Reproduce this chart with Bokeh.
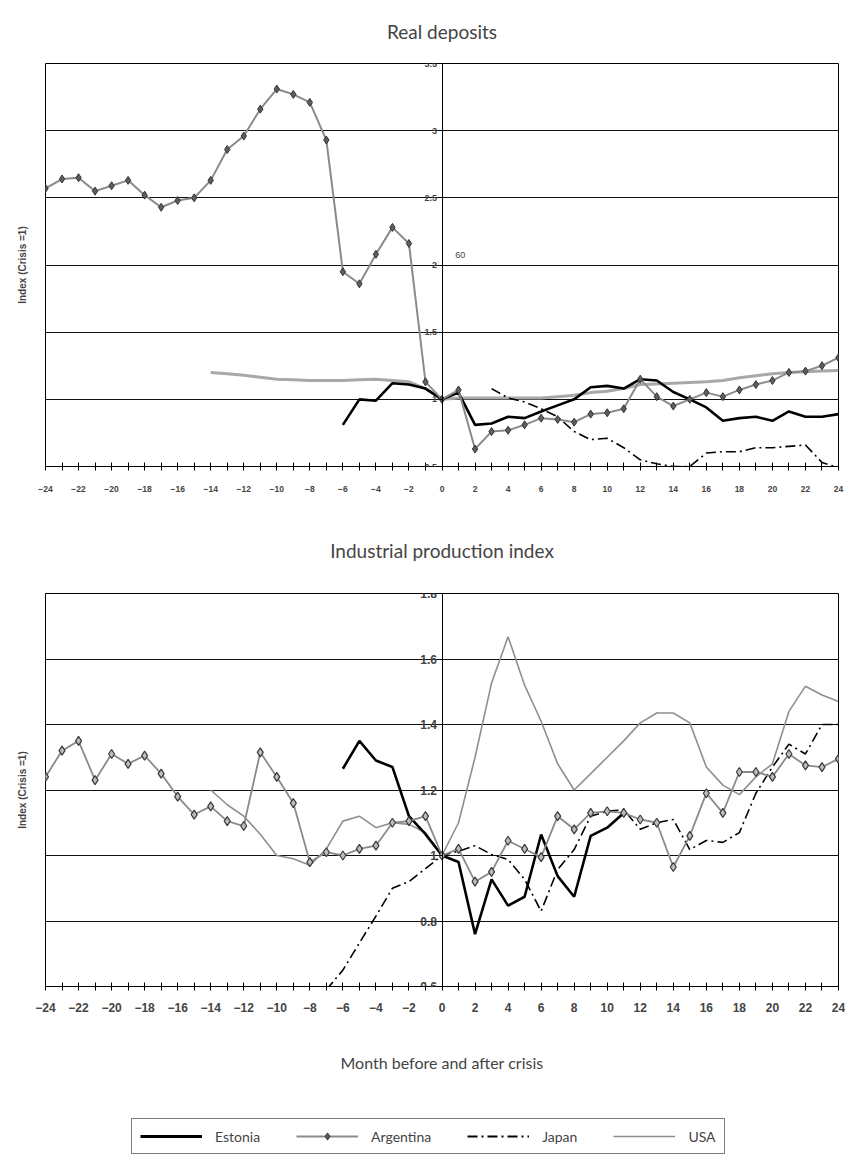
from bokeh.plotting import figure
from bokeh.layouts import column
from bokeh.models import (FixedTicker, Title, Legend, LegendItem, Label, Range1d,
                          CustomJSTickFormatter)
from bokeh.embed import file_html
from bokeh.resources import INLINE

# ---------------- data ----------------
# Month axis
month_ticks = list(range(-24, 25, 2))
month_minor = list(range(-23, 24, 2))

# Real deposits (Index, crisis = 1)
dep_argentina_start = -24
dep_argentina = [2.57, 2.64, 2.65, 2.55, 2.59, 2.63, 2.52, 2.43, 2.48, 2.50,
                 2.63, 2.86, 2.96, 3.16, 3.31, 3.27, 3.21, 2.93, 1.95, 1.86,
                 2.08, 2.28, 2.16, 1.13, 1.00,
                 1.07, 0.63, 0.76, 0.77, 0.81, 0.86, 0.85, 0.83, 0.89, 0.90,
                 0.93, 1.15, 1.02, 0.95, 1.00, 1.05, 1.02, 1.07, 1.11, 1.14,
                 1.20, 1.21, 1.25, 1.31]
dep_usa_start = -14
dep_usa = [1.20, 1.19, 1.18, 1.165, 1.15, 1.145, 1.14, 1.14, 1.14, 1.145,
           1.15, 1.14, 1.13, 1.08, 1.00,
           1.01, 1.01, 1.01, 1.01, 1.01, 1.01, 1.02, 1.03, 1.05, 1.06,
           1.08, 1.11, 1.115, 1.12, 1.125, 1.13, 1.14, 1.16, 1.175, 1.19,
           1.20, 1.205, 1.21, 1.215]
dep_estonia_start = -6
dep_estonia = [0.81, 1.00, 0.99, 1.12, 1.11, 1.08, 1.00,
               1.05, 0.81, 0.82, 0.87, 0.86, 0.91, 0.955, 1.00, 1.09, 1.10,
               1.08, 1.15, 1.14, 1.055, 1.00, 0.94, 0.84, 0.86, 0.87, 0.84,
               0.91, 0.87, 0.87, 0.89]
dep_japan_start = 3
dep_japan = [1.08, 1.01, 0.98, 0.93, 0.87, 0.76, 0.70, 0.71, 0.64, 0.55,
             0.52, 0.50, 0.50, 0.60, 0.61, 0.61, 0.64, 0.64, 0.65, 0.66,
             0.53, 0.49]
dep_yticks = [0.5, 1.0, 1.5, 2.0, 2.5, 3.0, 3.5]

# Industrial production index (crisis = 1)
ip_argentina_start = -24
ip_argentina = [1.24, 1.32, 1.35, 1.23, 1.31, 1.28, 1.305, 1.25, 1.18, 1.125,
                1.15, 1.105, 1.09, 1.315, 1.24, 1.16, 0.98, 1.01, 1.00, 1.02,
                1.03, 1.10, 1.105, 1.12, 1.00,
                1.02, 0.92, 0.95, 1.045, 1.02, 0.995, 1.12, 1.08, 1.13, 1.135,
                1.13, 1.11, 1.10, 0.965, 1.06, 1.19, 1.13, 1.255, 1.255, 1.24,
                1.31, 1.275, 1.27, 1.295]
ip_usa_start = -14
ip_usa = [1.20, 1.155, 1.12, 1.065, 1.00, 0.99, 0.97, 1.02, 1.105, 1.12,
          1.085, 1.10, 1.095, 1.07, 1.00,
          1.10, 1.30, 1.527, 1.668, 1.52, 1.41, 1.28, 1.20, 1.25, 1.30,
          1.35, 1.405, 1.435, 1.435, 1.405, 1.27, 1.215, 1.186, 1.24, 1.28,
          1.44, 1.517, 1.49, 1.47]
ip_estonia_start = -6
ip_estonia = [1.265, 1.35, 1.29, 1.27, 1.12, 1.065, 1.00,
              0.98, 0.76, 0.927, 0.847, 0.874, 1.064, 0.937, 0.874, 1.06, 1.085,
              1.13]
ip_japan_start = -7
ip_japan = [0.59, 0.65, 0.733, 0.815, 0.90, 0.92, 0.96, 1.00,
            1.013, 1.03, 1.003, 0.988, 0.927, 0.83, 0.957, 1.018, 1.12, 1.135,
            1.14, 1.08, 1.10, 1.11, 1.018, 1.046, 1.04, 1.07, 1.19, 1.27,
            1.34, 1.31, 1.40, 1.40]
ip_yticks = [0.6, 0.8, 1.0, 1.2, 1.4, 1.6, 1.8]

titles = ["Real deposits", "Industrial production index"]
y_label = "Index (Crisis =1)"
x_label = "Month before and after crisis"
series_names = ["Estonia", "Argentina", "Japan", "USA"]
annotation_text = "60"


def xs(start, vals):
    return list(range(start, start + len(vals)))


TITLE_FONT = "Lato"
AX_FONT = "Liberation Sans"
JAPAN_DASH = "10 4 2 4"
W = 845
LEFT = 44
RIGHT = 7


def make_fig(height, top, bottom, yr, yticks, title, title_standoff,
             title_valign, tick_font, xlab_standoff, left_standoff):
    p = figure(width=W, height=height, x_range=Range1d(-24, 24),
               y_range=Range1d(*yr), output_backend="svg", toolbar_location=None,
               min_border_left=LEFT, min_border_right=RIGHT,
               min_border_top=top, min_border_bottom=bottom)
    p.title.text = title
    p.title.align = "center"
    p.title.vertical_align = title_valign
    p.title.text_font = TITLE_FONT
    p.title.text_font_size = "19px"
    p.title.text_font_style = "normal"
    p.title.standoff = title_standoff
    p.outline_line_color = "black"
    p.outline_line_width = 1
    p.xgrid.visible = False
    p.ygrid.grid_line_color = "#111111"
    p.ygrid.grid_line_width = 1
    p.ygrid.ticker = FixedTicker(ticks=yticks)
    p.background_fill_color = "white"
    p.border_fill_color = "white"

    # x axis (bottom)
    xa = p.xaxis[0]
    xa.ticker = FixedTicker(ticks=month_ticks, minor_ticks=month_minor)
    xa.major_tick_in = 4
    xa.major_tick_out = 4
    xa.minor_tick_in = 4
    xa.minor_tick_out = 4
    xa.axis_line_color = "black"
    xa.major_label_text_font = AX_FONT
    xa.major_label_text_font_style = "bold"
    xa.major_label_text_font_size = tick_font[0]
    xa.major_label_standoff = xlab_standoff

    # y axis drawn at month 0
    ya = p.yaxis[0]
    ya.fixed_location = 0
    ya.ticker = FixedTicker(ticks=yticks)
    ya.major_tick_in = 0
    ya.major_tick_out = 3
    ya.minor_tick_in = 0
    ya.minor_tick_out = 0
    ya.major_label_standoff = 2
    ya.major_label_text_font = AX_FONT
    ya.major_label_text_font_style = "bold"
    ya.major_label_text_font_size = tick_font[1]

    lt = Title(text=y_label, align="center", vertical_align="top",
               text_font=AX_FONT, text_font_size="10px",
               text_font_style="bold", standoff=left_standoff)
    p.add_layout(lt, "left")
    return p


# ---------------- top chart ----------------
p1 = make_fig(505, 62, 39, (0.5, 3.5), dep_yticks, titles[0], 38, "top",
              ("8.5px", "9px"), 15, 32)
p1.yaxis[0].formatter = CustomJSTickFormatter(code="return tick.toString();")

p1.line(xs(dep_usa_start, dep_usa), dep_usa, line_color="#a8a8a8", line_width=3)
p1.line(xs(dep_japan_start, dep_japan), dep_japan, line_color="black",
        line_width=1.6, line_dash=JAPAN_DASH)
p1.line(xs(dep_estonia_start, dep_estonia), dep_estonia, line_color="black",
        line_width=2.6)
p1.line(xs(dep_argentina_start, dep_argentina), dep_argentina,
        line_color="#8a8a8a", line_width=2)
p1.scatter(xs(dep_argentina_start, dep_argentina), dep_argentina,
           marker="diamond", size=8, fill_color="#5e5e5e", line_color="#333333",
           line_width=1)
p1.add_layout(Label(x=0.8, y=2.05, text=annotation_text, text_font=AX_FONT,
                    text_font_size="9px", text_baseline="bottom"))

# ---------------- bottom chart ----------------
p2 = make_fig(581, 88, 100, (0.6, 1.8), ip_yticks, titles[1], 63, "bottom",
              ("12px", "12px"), 12, 32)

p2.line(xs(ip_usa_start, ip_usa), ip_usa, line_color="#8f8f8f", line_width=1.6)
p2.line(xs(ip_japan_start, ip_japan), ip_japan, line_color="black",
        line_width=1.6, line_dash=JAPAN_DASH)
p2.line(xs(ip_estonia_start, ip_estonia), ip_estonia, line_color="black",
        line_width=2.6)
p2.line(xs(ip_argentina_start, ip_argentina), ip_argentina,
        line_color="#8a8a8a", line_width=1.8)
p2.scatter(xs(ip_argentina_start, ip_argentina), ip_argentina,
           marker="diamond", size=9, fill_color="#bdbdbd",
           line_color="#3a3a3a", line_width=1.2)

xa2 = p2.xaxis[0]
xa2.axis_label = x_label
xa2.axis_label_text_font = TITLE_FONT
xa2.axis_label_text_font_size = "16px"
xa2.axis_label_text_font_style = "normal"
xa2.axis_label_standoff = 38

# ---------------- legend strip ----------------
p3 = figure(width=W, height=69, x_range=Range1d(-24, 24),
            y_range=Range1d(0.6, 1.8), output_backend="svg",
            toolbar_location=None, x_axis_type=None, y_axis_type=None,
            min_border_left=LEFT, min_border_right=RIGHT,
            min_border_top=0, min_border_bottom=0)
p3.outline_line_color = None
p3.background_fill_color = "white"
p3.border_fill_color = "white"
l_est = p3.line(xs(ip_estonia_start, ip_estonia), ip_estonia,
                line_color="black", line_width=3, visible=False)
l_arg = p3.line(xs(ip_argentina_start, ip_argentina), ip_argentina,
                line_color="#8a8a8a", line_width=1.8, visible=False)
m_arg = p3.scatter(xs(ip_argentina_start, ip_argentina), ip_argentina,
                   marker="diamond", size=10, fill_color="#5e5e5e",
                   line_color="#333333", line_width=1, visible=False)
l_jap = p3.line(xs(ip_japan_start, ip_japan), ip_japan, line_color="black",
                line_width=2, line_dash=JAPAN_DASH, visible=False)
l_usa = p3.line(xs(ip_usa_start, ip_usa), ip_usa, line_color="#8f8f8f",
                line_width=1.6, visible=False)

legend = Legend(items=[
    LegendItem(label=series_names[0], renderers=[l_est]),
    LegendItem(label=series_names[1], renderers=[l_arg, m_arg]),
    LegendItem(label=series_names[2], renderers=[l_jap]),
    LegendItem(label=series_names[3], renderers=[l_usa]),
], orientation="horizontal", location=(130 - LEFT, 1),
    border_line_color="black", border_line_width=1.5,
    label_text_font=TITLE_FONT, label_text_font_size="14px",
    glyph_width=62, glyph_height=18, label_standoff=13, spacing=36,
    padding=8, margin=0, background_fill_color="white",
    click_policy="none")
p3.add_layout(legend)

layout = column(p1, p2, p3, spacing=0)
open("out.html", "w").write(file_html(layout, INLINE))
